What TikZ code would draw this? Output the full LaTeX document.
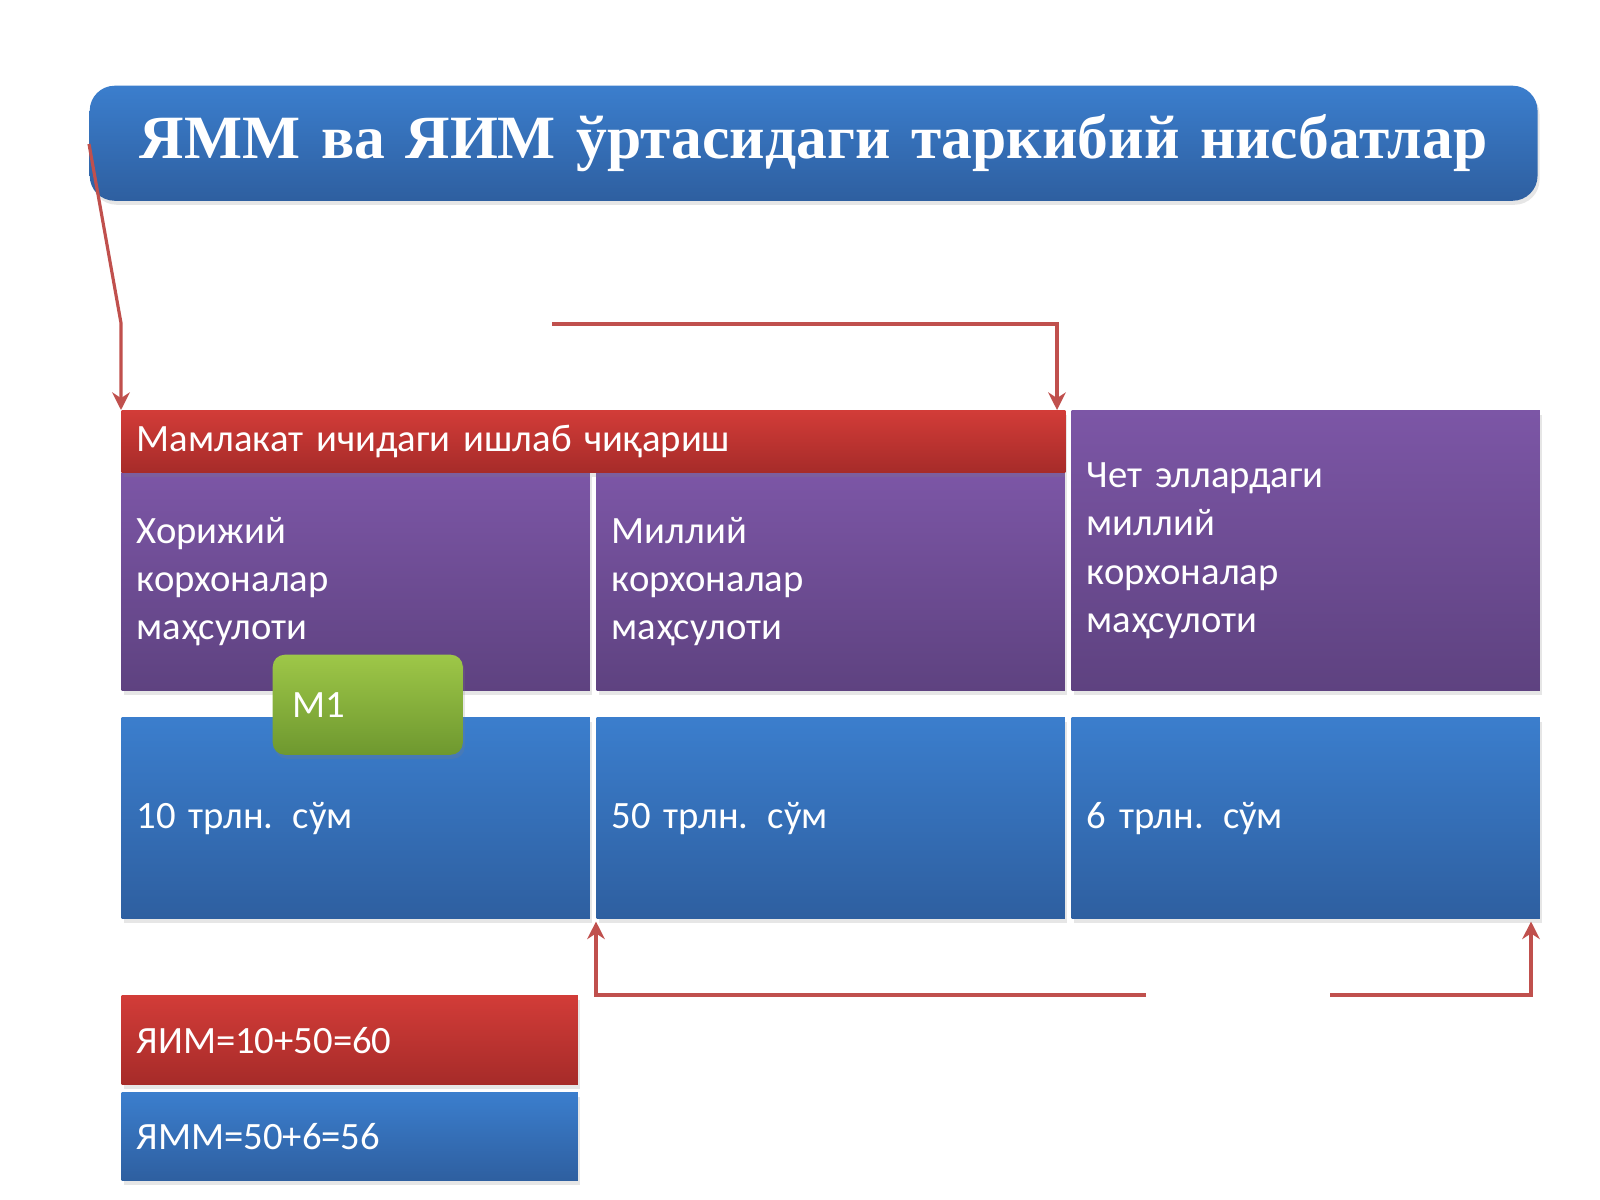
\documentclass[tikz,border=0pt]{standalone}
\usepackage{fontspec}
\setmainfont{Carlito}
\newfontfamily\titlefont{Liberation Serif}
\usetikzlibrary{arrows.meta,shadows}
\definecolor{lnred}{HTML}{C0504D}
\definecolor{purT}{RGB}{124,86,166}
\definecolor{purB}{RGB}{94,66,128}
\definecolor{bluT}{RGB}{59,126,205}
\definecolor{bluB}{RGB}{46,95,160}
\definecolor{rdT}{RGB}{210,60,56}
\definecolor{rdB}{RGB}{166,43,41}
\definecolor{grT}{RGB}{158,199,72}
\definecolor{grB}{RGB}{110,152,47}
\begin{document}
\begin{tikzpicture}[x=0.01cm,y=-0.01cm,
  box/.style={anchor=north west,draw=none,inner xsep=0.15cm,align=left,text=white,
     font=\fontsize{11pt}{13.7pt}\selectfont,drop shadow={opacity=0.2,shadow xshift=0.02cm,shadow yshift=-0.04cm}},
  pur/.style={box,top color=purT,bottom color=purB},
  blu/.style={box,top color=bluT,bottom color=bluB},
  rd/.style={box,top color=rdT,bottom color=rdB},
  gr/.style={box,rounded corners=0.12cm,top color=grT,bottom color=grB},
  conn/.style={draw=lnred,line width=0.9pt},
  arr/.style={conn,-{Stealth[length=5pt,width=5pt]}}]
\useasboundingbox (0,0) rectangle (1600,1200);
\node[blu,rounded corners=0.25cm,minimum width=14.47cm,minimum height=1.15cm,text width=14.2cm,align=center,inner xsep=0pt,
  font=\titlefont\bfseries\fontsize{17.5pt}{22pt}\selectfont] (title) at (89,85) {ЯММ ва ЯИМ ўртасидаги таркибий нисбатлар};
\node[pur,minimum width=4.68cm,minimum height=2.18cm,text width=4.38cm] (p1) at (121,472) {Хорижий\\корхоналар\\маҳсулоти};
\node[pur,minimum width=4.68cm,minimum height=2.18cm,text width=4.38cm] (p2) at (596,472) {Миллий\\корхоналар\\маҳсулоти};
\node[pur,minimum width=4.68cm,minimum height=2.80cm,text width=4.38cm] (p3) at (1071,410) {Чет эллардаги\\миллий\\корхоналар\\маҳсулоти};
\node[rd,minimum width=9.43cm,minimum height=0.62cm,text width=9.13cm] (dom) at (121,410) {Мамлакат ичидаги ишлаб чиқариш};
\node[blu,minimum width=4.68cm,minimum height=2.01cm,text width=4.38cm] (b1) at (121,717) {10 трлн. сўм};
\node[blu,minimum width=4.68cm,minimum height=2.01cm,text width=4.38cm] (b2) at (596,717) {50 трлн. сўм};
\node[blu,minimum width=4.68cm,minimum height=2.01cm,text width=4.38cm] (b3) at (1071,717) {6 трлн. сўм};
\node[gr,minimum width=1.90cm,minimum height=1.00cm,text width=1.50cm,inner xsep=0.2cm] (m1) at (272,654) {М1};
\node[rd,minimum width=4.56cm,minimum height=0.89cm,text width=4.26cm] (yim) at (121,995) {ЯИМ=10+50=60};
\node[blu,minimum width=4.56cm,minimum height=0.88cm,text width=4.26cm] (ymm) at (121,1092) {ЯММ=50+6=56};
\coordinate (a0) at (89,144);
\coordinate (a1) at (121,323);
\coordinate (c0) at (552,324);
\coordinate (c1) at (1057,324);
\coordinate (d0) at (1146,995);
\coordinate (d1) at (596,995);
\coordinate (e0) at (1330,995);
\coordinate (e1) at (1531,995);
\draw[arr] (a0) -- (a1) -- (a1 |- dom.north);
\draw[arr] (c0) -- (c1) -- (c1 |- dom.north);
\draw[arr] (d0) -- (d1) -- ([yshift=-0.02cm]d1 |- b2.south);
\draw[arr] (e0) -- (e1) -- ([yshift=-0.02cm]e1 |- b3.south);
\end{tikzpicture}
\end{document}
